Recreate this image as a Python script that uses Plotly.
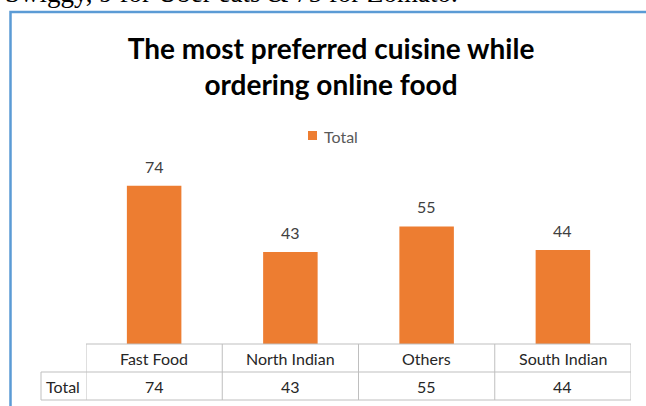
import plotly.graph_objects as go

# Survey results: preferred cuisine when ordering food online
categories = ["Fast Food", "North Indian", "Others", "South Indian"]
totals = [74, 43, 55, 44]
series_name = "Total"
chart_title = "The most preferred cuisine while<br>ordering online food"
page_text = "Swiggy, 9 for Uber eats & 75 for Zomato."

W, H = 646, 406
M = dict(l=86, r=15, t=173, b=62)
PW = W - M["l"] - M["r"]
PH = H - M["t"] - M["b"]


def px_x(x):
    """pixel column -> paper x"""
    return (x - M["l"]) / PW


def px_y(y):
    """pixel row -> paper y"""
    return 1 - (y - M["t"]) / PH


ORANGE = "#ed7d31"
GRID = "#bfbfbf"
TXT = "#404040"
CELL = "#262626"
FONT = "Lato"

fig = go.Figure()
fig.add_trace(go.Bar(
    x=list(range(len(categories))),
    y=totals,
    name=series_name,
    marker=dict(color=ORANGE, line=dict(width=0)),
    showlegend=False,
))

shapes = []
annotations = []

# value labels above each bar
for i, v in enumerate(totals):
    annotations.append(dict(
        x=i, y=v, xref="x", yref="y", text=str(v), showarrow=False,
        xanchor="center", yanchor="bottom", yshift=8,
        font=dict(family=FONT, size=16, color=TXT),
    ))

# legend key for the series
shapes.append(dict(type="rect", xref="paper", yref="paper",
                   x0=px_x(308), x1=px_x(317), y0=px_y(140), y1=px_y(131),
                   fillcolor=ORANGE, line=dict(width=0)))
annotations.append(dict(x=px_x(322), y=px_y(136), xref="paper", yref="paper",
                        text=series_name, showarrow=False, xanchor="left", yanchor="middle",
                        font=dict(family=FONT, size=16, color="#595959")))

# data table under the plot
y_top, y_mid, y_bot = px_y(344), px_y(372), px_y(400)
line = dict(color=GRID, width=1)
n = len(categories)
shapes.append(dict(type="line", xref="x", yref="paper", x0=-0.5, x1=n - 0.5,
                   y0=y_top, y1=y_top, line=line))
for yy in (y_mid, y_bot):
    shapes.append(dict(type="line", xref="paper", yref="paper", x0=px_x(41), x1=1,
                       y0=yy, y1=yy, line=line))
shapes.append(dict(type="line", xref="paper", yref="paper", x0=px_x(41), x1=px_x(41),
                   y0=y_mid, y1=y_bot, line=line))
for k in range(n + 1):
    shapes.append(dict(type="line", xref="x", yref="paper", x0=k - 0.5, x1=k - 0.5,
                       y0=y_top, y1=y_bot, line=line))

cell_font = dict(family=FONT, size=16, color=CELL)
for i, (c, v) in enumerate(zip(categories, totals)):
    annotations.append(dict(x=i, y=(y_top + y_mid) / 2, xref="x", yref="paper",
                            text=c, showarrow=False, xanchor="center", yanchor="middle",
                            font=cell_font))
    annotations.append(dict(x=i, y=(y_mid + y_bot) / 2, xref="x", yref="paper",
                            text=str(v), showarrow=False, xanchor="center", yanchor="middle",
                            font=cell_font))
annotations.append(dict(x=px_x(62.5), y=(y_mid + y_bot) / 2, xref="paper", yref="paper",
                        text=series_name, showarrow=False, xanchor="center", yanchor="middle",
                        font=cell_font))

# chart frame
shapes.append(dict(type="rect", xref="paper", yref="paper",
                   x0=px_x(10.5), x1=px_x(680), y0=px_y(440), y1=px_y(12),
                   line=dict(color="#5b9bd5", width=2.5), layer="below"))

# surrounding document text
annotations.append(dict(x=px_x(3), y=px_y(-7), xref="paper", yref="paper",
                        text=page_text, showarrow=False, xanchor="left", yanchor="middle",
                        font=dict(family="Liberation Serif", size=27, color="#000000")))

fig.update_layout(
    width=W, height=H, margin=M,
    paper_bgcolor="white", plot_bgcolor="white",
    bargap=0.6,
    showlegend=False,
    title=dict(text=f"<b>{chart_title}</b>", x=331 / W, xanchor="center",
               y=1 - 59 / H, yanchor="middle", yref="container",
               font=dict(family=FONT, size=28, color="#000000")),
    xaxis=dict(range=[-0.5, n - 0.5], showticklabels=False, showgrid=False,
               zeroline=False, showline=False, ticks=""),
    yaxis=dict(range=[0, 80], visible=False),
    shapes=shapes,
    annotations=annotations,
)

fig.write_html("out.html")
